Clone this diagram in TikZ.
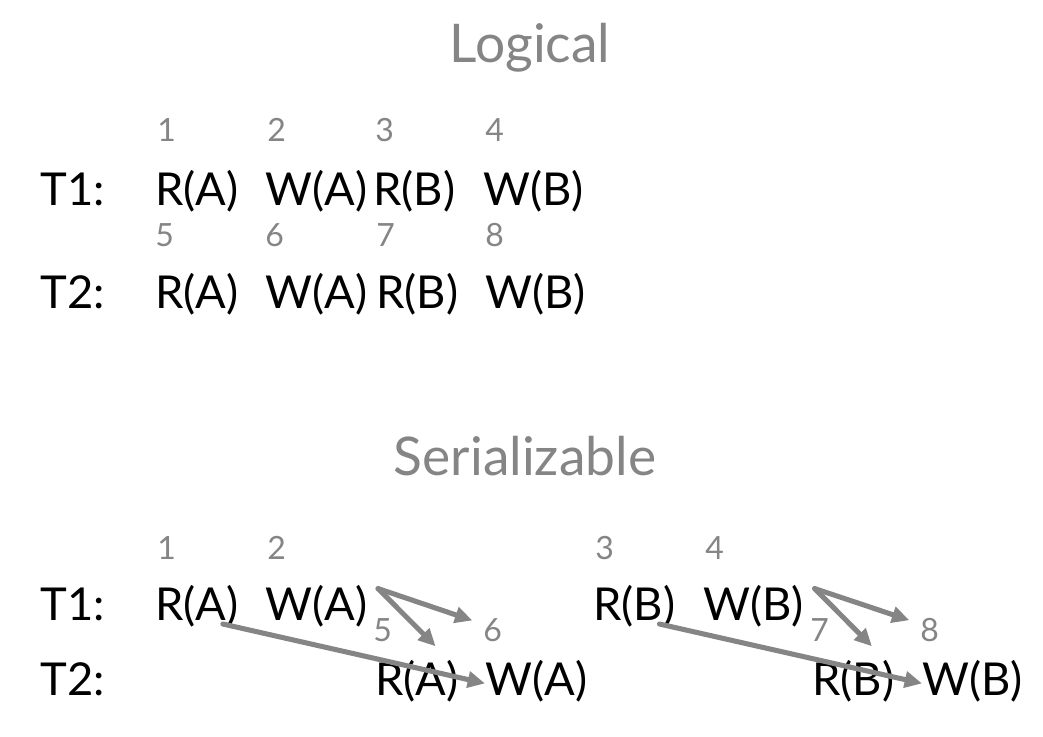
\documentclass[tikz,border=0pt]{standalone}
\usepackage{fontspec}
\setmainfont{Lato}
\usetikzlibrary{arrows.meta}
\definecolor{slate}{gray}{0.52}
\begin{document}
\begin{tikzpicture}[x=0.75pt, y=-0.75pt, line join=round, line cap=round,
    >={Triangle[length=13pt,width=12pt]},
    op/.style={anchor=base west, inner sep=0pt, font=\fontsize{34}{34}\selectfont},
    num/.style={anchor=base west, inner sep=0pt, text=slate, font=\fontsize{24}{24}\selectfont},
    ttl/.style={anchor=base, inner sep=0pt, text=slate, font=\fontsize{40}{40}\selectfont},
    dep/.style={draw=slate, line width=3.8pt, ->}]
    \useasboundingbox (0,0) rectangle (1043,736);
    % logical order
    \node[ttl] (logical) at (530,62) {Logical};
    \node[op] (lt1) at (40,205) {T1:};
    \node[op] (lt2) at (40,308) {T2:};
    \foreach \x/\n/\lbl/\nm in {155/1/R(A)/a, 265/2/W(A)/b, 373/3/R(B)/c, 483/4/W(B)/d}
        {\node[num] (ln\n) at (\x+2,141) {\n};
         \node[op] (l1\nm) at (\x,205) {\lbl};}
    \foreach \x/\n/\lbl/\nm in {155/5/R(A)/a, 265/6/W(A)/b, 376/7/R(B)/c, 485/8/W(B)/d}
        {\node[num] (ln\n) at (\x,246) {\n};
         \node[op] (l2\nm) at (\x,308) {\lbl};}
    % serializable order
    \node[ttl] (serial) at (525,475) {Serializable};
    \node[op] (st1) at (40,620) {T1:};
    \node[op] (st2) at (40,695) {T2:};
    \foreach \x/\n/\lbl/\nm in {155/1/R(A)/a, 265/2/W(A)/b, 593/3/R(B)/c, 703/4/W(B)/d}
        {\node[num] (sn\n) at (\x+2,559) {\n};
         \node[op] (s1\nm) at (\x,620) {\lbl};}
    \foreach \x/\n/\lbl/\nm in {375/5/R(A)/a, 485/6/W(A)/b, 812/7/R(B)/c, 922/8/W(B)/d}
        {\node[num] (sn\n) at (\x-2,641) {\n};
         \node[op] (s2\nm) at (\x,695) {\lbl};}
    \draw[dep] ([xshift=-12pt,yshift=-3pt]s1a.base east) -- ([yshift=-2pt]s2b.west);
    \draw[dep] ([xshift=8pt,yshift=-3pt]s1b.north east) -- ([xshift=-8pt,yshift=-2pt]sn6.north west);
    \draw[dep] ([xshift=8pt,yshift=-3pt]s1b.north east) -- ([xshift=14pt,yshift=10pt]s2a.north);
    \draw[dep] ([xshift=-12pt,yshift=-3pt]s1c.base east) -- ([yshift=-2pt]s2d.west);
    \draw[dep] ([xshift=8pt,yshift=-3pt]s1d.north east) -- ([xshift=-8pt,yshift=-2pt]sn8.north west);
    \draw[dep] ([xshift=8pt,yshift=-3pt]s1d.north east) -- ([xshift=14pt,yshift=10pt]s2c.north);
\end{tikzpicture}
\end{document}
